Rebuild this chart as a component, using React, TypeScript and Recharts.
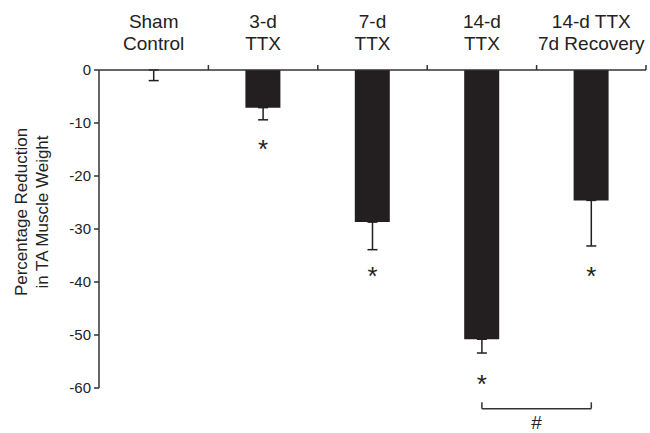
import React from 'react';
import { ComposedChart, Bar, Line, XAxis, YAxis, ErrorBar, Scatter, ReferenceLine } from 'recharts';

// groups, left to right
const groups = ['sham', 'ttx3', 'ttx7', 'ttx14', 'recovery'];
const groupLabels = [
  ['Sham', 'Control'],
  ['3-d', 'TTX'],
  ['7-d', 'TTX'],
  ['14-d', 'TTX'],
  ['14-d TTX', '7d Recovery'],
];
// percentage reduction in TA muscle weight (mean) and error (downward only)
const reduction = [0, -7.1, -28.7, -50.8, -24.6];
const errDown = [2.0, 2.3, 5.2, 2.6, 8.6];
// where the * sits under each bar
const starAt = [null, -13.7, -37.8, -58.1, -37.8];
const yTicks = [0, -10, -20, -30, -40, -50, -60];
// # bracket between 14-d TTX and recovery
const bracketLine = -63.9;
const bracketLegTop = -62.7;

const data = groups.map((g, i) => ({
  group: g,
  value: reduction[i],
  err: [errDown[i], 0],
  star: starAt[i],
}));

const FONT = '"Liberation Sans", Arial, Helvetica, sans-serif';
const INK = '#231f20';
const AXIS = '#333';

const GroupTick = (props: any) => {
  const { x, payload, index } = props;
  const lines = groupLabels[index] || [];
  const half = payload && payload.offset ? payload.offset : 54.7;
  return (
    <g>
      <text x={x} y={28} textAnchor="middle" fontSize={19} fill="#222" fontFamily={FONT}>
        {lines[0]}
      </text>
      <text x={x} y={50} textAnchor="middle" fontSize={19} fill="#222" fontFamily={FONT}>
        {lines[1]}
      </text>
      <line x1={x + half} y1={70} x2={x + half} y2={65} stroke={AXIS} strokeWidth={1.5} />
    </g>
  );
};

const Star = (props: any) => {
  const { cx, cy, payload } = props;
  if (!payload || payload.star == null) return <g />;
  return (
    <text x={cx} y={cy + 15} textAnchor="middle" fontSize={26} fill="#222" fontFamily={FONT}>
      *
    </text>
  );
};

const HashLabel = (props: any) => {
  const vb = props.viewBox || {};
  const cx = vb.x + (vb.width || 0) / 2;
  return (
    <text x={cx} y={vb.y + 20} textAnchor="middle" fontSize={19} fill="#222" fontFamily={FONT}>
      #
    </text>
  );
};

const YTitle = () => (
  <g>
    <text transform="translate(27,212) rotate(-90)" textAnchor="middle" fontSize={17} fill="#222" fontFamily={FONT}>
      Percentage Reduction
    </text>
    <text transform="translate(48,212) rotate(-90)" textAnchor="middle" fontSize={17} fill="#222" fontFamily={FONT}>
      in TA Muscle Weight
    </text>
  </g>
);

export default function App() {
  return (
    <div style={{ position: 'absolute', left: 0, top: 0, background: '#fff', fontFamily: FONT }}>
      <ComposedChart
        width={650}
        height={433}
        data={data}
        margin={{ top: 0, right: 4, bottom: 45, left: 0 }}
      >
        <XAxis
          dataKey="group"
          orientation="top"
          height={70}
          axisLine={{ stroke: AXIS, strokeWidth: 1.5 }}
          tickLine={false}
          tick={<GroupTick />}
          interval={0}
        />
        <YAxis
          type="number"
          domain={[-60, 0]}
          ticks={yTicks}
          width={99}
          tickSize={5}
          tickMargin={3}
          axisLine={{ stroke: AXIS, strokeWidth: 1.5 }}
          tickLine={{ stroke: AXIS, strokeWidth: 1.5 }}
          tick={{ fontSize: 15, fill: '#222' }}
          label={{ content: <YTitle /> }}
        />
        <Bar dataKey="value" fill={INK} barSize={35} isAnimationActive={false} />
        <Line
          dataKey="value"
          stroke="none"
          dot={false}
          activeDot={false}
          legendType="none"
          isAnimationActive={false}
        >
          <ErrorBar dataKey="err" direction="y" width={5} stroke={INK} strokeWidth={1.5} />
        </Line>
        <Scatter dataKey="star" shape={<Star />} isAnimationActive={false} />
        <ReferenceLine
          segment={[{ x: 'ttx14', y: bracketLine }, { x: 'recovery', y: bracketLine }]}
          stroke={AXIS}
          strokeWidth={1.5}
          ifOverflow="visible"
          label={<HashLabel />}
        />
        <ReferenceLine
          segment={[{ x: 'ttx14', y: bracketLegTop }, { x: 'ttx14', y: bracketLine }]}
          stroke={AXIS}
          strokeWidth={1.5}
          ifOverflow="visible"
        />
        <ReferenceLine
          segment={[{ x: 'recovery', y: bracketLegTop }, { x: 'recovery', y: bracketLine }]}
          stroke={AXIS}
          strokeWidth={1.5}
          ifOverflow="visible"
        />
      </ComposedChart>
    </div>
  );
}
